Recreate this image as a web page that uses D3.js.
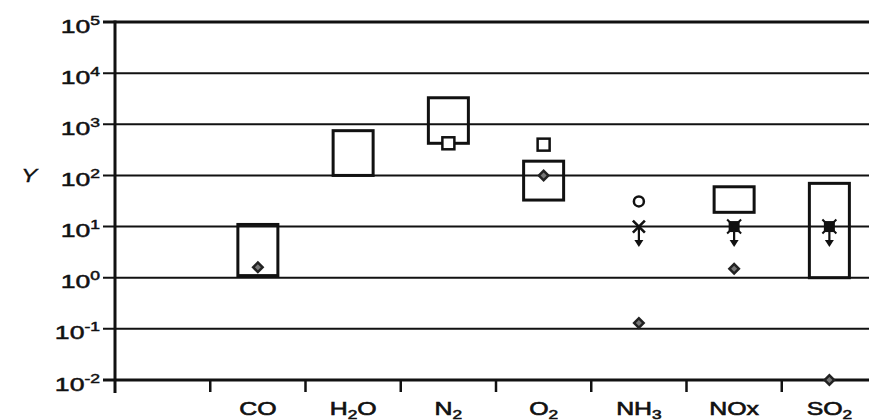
<!DOCTYPE html>
<html>
<head>
<meta charset="utf-8">
<script src="https://cdn.jsdelivr.net/npm/d3@7/dist/d3.min.js"></script>
<style>
  html, body { margin: 0; padding: 0; background: #fff; }
  svg { display: block; }
  text { font-family: "Liberation Sans", Arial, sans-serif; fill: #111; }
</style>
</head>
<body>
<svg id="chart" width="869" height="420"></svg>
<script>
// ---- data ----
const categories = ["", "CO", "H2O", "N2", "O2", "NH3", "NOx", "SO2"];
const labelBase = ["", "CO", "H", "N", "O", "NH", "NOx", "SO"];
const labelSub  = ["", "",   "2", "2", "2", "3",  "",    "2"];
const labelTail = ["", "",   "O", "",  "",  "",   "",    ""];
const boxLow  = [null, 1.1, 100, 425, 33, null, 19, 1];
const boxHigh = [null, 11, 750, 3300, 190, null, 60, 70];
const diamondVals = [null, 1.6, null, null, 100, 0.13, 1.5, 0.01];
const openSquareVals = [null, null, null, 425, 400, null, null, null];
const circleVals = [null, null, null, null, null, 31, null, null];
const crossLimitVals = [null, null, null, null, null, 10, null, null];
const filledLimitVals = [null, null, null, null, null, null, 10, 10];
const arrowFactor = 2.5;
const tickExponents = [-2, -1, 0, 1, 2, 3, 4, 5];

// ---- layout ----
const svg = d3.select("#chart");
const mLeft = 115, mRight = 869, mTop = 22, mBottom = 380;
const y = d3.scaleLog().domain([1e-2, 1e5]).range([mBottom, mTop]);
const x = d3.scaleBand().domain(categories).range([mLeft, mLeft + 8 * 95.25]);
const bw = x.bandwidth();
const cx = c => x(c) + bw / 2;

// gridlines
svg.append("g").selectAll("line").data(tickExponents).join("line")
  .attr("x1", mLeft - 12).attr("x2", mRight)
  .attr("y1", d => y(Math.pow(10, d))).attr("y2", d => y(Math.pow(10, d)))
  .attr("stroke", "#111")
  .attr("stroke-width", d => (d === 5 || d === -2) ? 3 : 2);

// y axis line
svg.append("line").attr("x1", mLeft).attr("x2", mLeft)
  .attr("y1", mTop - 1.5).attr("y2", mBottom + 13)
  .attr("stroke", "#111").attr("stroke-width", 3);

// x ticks
svg.append("g").selectAll("line").data(categories.slice(1)).join("line")
  .attr("x1", d => x(d)).attr("x2", d => x(d))
  .attr("y1", mBottom).attr("y2", mBottom + 12)
  .attr("stroke", "#111").attr("stroke-width", 2.5);

// y tick labels
const yl = svg.append("g").selectAll("text").data(tickExponents).join("text")
  .attr("text-anchor", "end")
  .attr("transform", d => `translate(100,${y(Math.pow(10, d)) + 10.5}) scale(1.4,1)`)
  .style("font-size", "19px").style("stroke", "#111").style("stroke-width", "0.5px");
yl.append("tspan").text("10");
yl.append("tspan").attr("dy", -8).style("font-size", "12.5px").text(d => String(d));

// Y title
svg.append("text").attr("transform", `translate(29,${y(100) + 7}) scale(1.35,1)`)
  .attr("text-anchor", "middle").style("font-size", "18px").style("font-style", "italic")
  .style("stroke", "#111").style("stroke-width", "0.3px")
  .text("Y");

// x labels
const xl = svg.append("g").selectAll("text").data(categories.slice(1).map((c, i) => i + 1)).join("text")
  .attr("text-anchor", "middle")
  .attr("transform", i => `translate(${cx(categories[i])},415) scale(1.38,1)`)
  .style("font-size", "18px").style("stroke", "#111").style("stroke-width", "0.6px");
xl.append("tspan").text(i => labelBase[i]);
xl.append("tspan").attr("dy", 4).style("font-size", "12.5px").text(i => labelSub[i]);
xl.append("tspan").attr("dy", -4).text(i => labelTail[i]);

// boxes
const boxW = bw * 0.42;
const idx = d3.range(categories.length);
svg.append("g").selectAll("rect").data(idx.filter(i => boxLow[i] != null)).join("rect")
  .attr("x", i => cx(categories[i]) - boxW / 2)
  .attr("width", boxW)
  .attr("y", i => y(boxHigh[i]))
  .attr("height", i => y(boxLow[i]) - y(boxHigh[i]))
  .attr("fill", "none").attr("stroke", "#111").attr("stroke-width", 3);

// open squares
svg.append("g").selectAll("rect").data(idx.filter(i => openSquareVals[i] != null)).join("rect")
  .attr("x", i => cx(categories[i]) - 6).attr("width", 12)
  .attr("y", i => y(openSquareVals[i]) - 6).attr("height", 12)
  .attr("fill", "#fff").attr("stroke", "#111").attr("stroke-width", 2.5);

// circles
svg.append("g").selectAll("circle").data(idx.filter(i => circleVals[i] != null)).join("circle")
  .attr("cx", i => cx(categories[i])).attr("cy", i => y(circleVals[i])).attr("r", 5)
  .attr("fill", "#fff").attr("stroke", "#111").attr("stroke-width", 2.5);

// arrows (upper limits)
const limitIdx = idx.filter(i => crossLimitVals[i] != null || filledLimitVals[i] != null);
const limitVal = i => crossLimitVals[i] != null ? crossLimitVals[i] : filledLimitVals[i];
const ag = svg.append("g").selectAll("g").data(limitIdx).join("g");
ag.append("line")
  .attr("x1", i => cx(categories[i])).attr("x2", i => cx(categories[i]))
  .attr("y1", i => y(limitVal(i))).attr("y2", i => y(limitVal(i) / arrowFactor) - 5)
  .attr("stroke", "#111").attr("stroke-width", 2.2);
ag.append("path")
  .attr("d", i => {
    const px = cx(categories[i]), py = y(limitVal(i) / arrowFactor);
    return `M${px - 4.5},${py - 7}L${px + 4.5},${py - 7}L${px},${py}Z`;
  })
  .attr("fill", "#111");

// filled squares with x
const fs = svg.append("g").selectAll("g").data(idx.filter(i => filledLimitVals[i] != null)).join("g")
  .attr("transform", i => `translate(${cx(categories[i])},${y(filledLimitVals[i])})`);
fs.append("rect").attr("x", -5.5).attr("y", -5.5).attr("width", 11).attr("height", 11).attr("fill", "#111");
fs.append("path").attr("d", "M-7,-7L7,7M7,-7L-7,7").attr("stroke", "#111").attr("stroke-width", 2);

// crosses
svg.append("g").selectAll("path").data(idx.filter(i => crossLimitVals[i] != null)).join("path")
  .attr("transform", i => `translate(${cx(categories[i])},${y(crossLimitVals[i])})`)
  .attr("d", "M-6,-6L6,6M6,-6L-6,6")
  .attr("stroke", "#111").attr("stroke-width", 2.6);

// diamonds
const dg = svg.append("g").selectAll("g").data(idx.filter(i => diamondVals[i] != null)).join("g")
  .attr("transform", i => `translate(${cx(categories[i])},${y(diamondVals[i])})`);
dg.append("path").attr("d", "M0,-6.5L6.5,0L0,6.5L-6.5,0Z").attr("fill", "#222");
dg.append("path").attr("d", "M0,-3L3,0L0,3L-3,0Z").attr("fill", "#777");
</script>
</body>
</html>
